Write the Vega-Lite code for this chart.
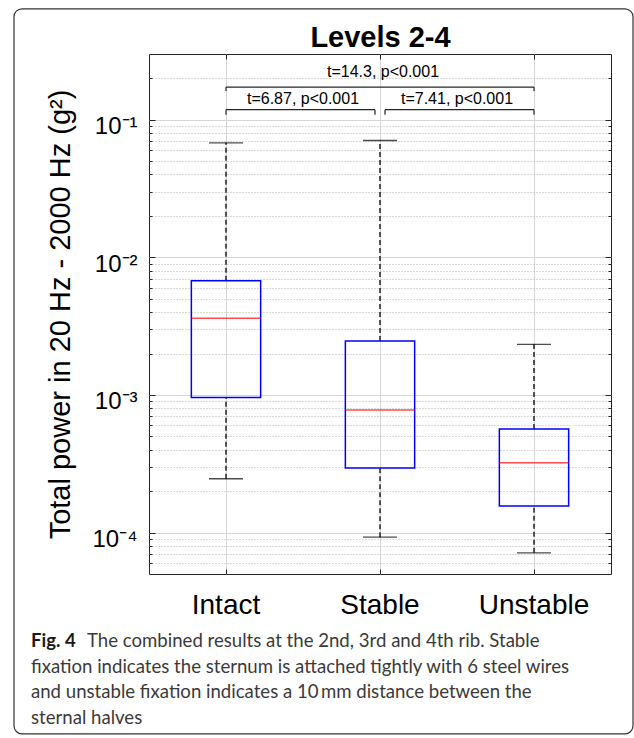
{
  "$schema": "https://vega.github.io/schema/vega-lite/v6.json",
  "padding": {"left": 13, "top": 8, "right": 1, "bottom": 4},
  "background": "white",
  "bounds": "flush",
  "spacing": 60,
  "config": {"font": "Liberation Sans", "view": {"stroke": null}},
  "datasets": {
    "stats": [
      {"group": "Intact", "lower": 0.000246, "q1": 0.000956, "median": 0.00361, "q3": 0.00676, "upper": 0.0679},
      {"group": "Stable", "lower": 0.0000926, "q1": 0.000294, "median": 0.000778, "q3": 0.00247, "upper": 0.0706},
      {"group": "Unstable", "lower": 0.0000713, "q1": 0.000156, "median": 0.000321, "q3": 0.000566, "upper": 0.00233}
    ],
    "brackets": [
      {"from": "Intact", "to": "Unstable", "label": "t=14.3, p<0.001", "tier": "outer"},
      {"from": "Intact", "to": "Stable", "label": "t=6.87, p<0.001", "tier": "inner"},
      {"from": "Stable", "to": "Unstable", "label": "t=7.41, p<0.001", "tier": "inner"}
    ],
    "caption": [
      {"line": 1, "label": "Fig. 4", "text": "The combined results at the 2nd, 3rd and 4th rib. Stable"},
      {"line": 2, "label": "", "text": "fixation indicates the sternum is attached tightly with 6 steel wires"},
      {"line": 3, "label": "", "text": "and unstable fixation indicates a 10\u2009mm distance between the"},
      {"line": 4, "label": "", "text": "sternal halves"}
    ]
  },
  "vconcat": [
    {
      "width": 462,
      "height": 520,
      "view": {"stroke": "#262626", "strokeWidth": 1},
      "resolve": {"axis": {"x": "independent", "y": "independent"}},
      "layer": [
        {
          "layer": [
            {
              "data": {"name": "stats"},
              "mark": {"type": "rule", "color": "#000000", "strokeWidth": 1.3, "strokeDash": [5, 3]},
              "encoding": {
                "x": {"field": "group", "type": "nominal", "bandPosition": 0.5,
                  "scale": {"type": "band", "domain": ["Intact", "Stable", "Unstable"], "paddingInner": 0, "paddingOuter": 0},
                  "axis": {"orient": "bottom", "bandPosition": 0.5, "labelFontSize": 28, "labelColor": "#000000", "labelPadding": 22, "labelAngle": 0,
                    "tickSize": -5, "tickColor": "#262626", "tickWidth": 1, "grid": true, "gridColor": "#d6d6d6", "gridWidth": 1, "domain": false, "title": null}},
                "y": {"field": "lower", "type": "quantitative",
                  "scale": {"type": "log", "domain": [0.00005, 0.3], "nice": false},
                  "axis": {"orient": "left",
                    "values": [0.00006, 0.00007, 0.00008, 0.00009, 0.0001, 0.0002, 0.0003, 0.0004, 0.0005, 0.0006, 0.0007, 0.0008, 0.0009, 0.001, 0.002, 0.003, 0.004, 0.005, 0.006, 0.007, 0.008, 0.009, 0.01, 0.02, 0.03, 0.04, 0.05, 0.06, 0.07, 0.08, 0.09, 0.1, 0.2],
                    "labelExpr": "datum.value === 0.1 ? '10⁻¹' : datum.value === 0.01 ? '10⁻²' : datum.value === 0.001 ? '10⁻³' : datum.value === 0.0001 ? '10⁻⁴' : ''",
                    "labelOverlap": false, "labelFontSize": 24, "labelColor": "#000000", "labelPadding": 18, "labelOffset": 7,
                    "tickSize": {"condition": {"test": "datum.value === 0.0001 || datum.value === 0.001 || datum.value === 0.01 || datum.value === 0.1", "value": -6}, "value": -3},
                    "tickColor": "#262626", "tickWidth": 1,
                    "grid": true,
                    "gridColor": {"condition": {"test": "datum.value === 0.0001 || datum.value === 0.001 || datum.value === 0.01 || datum.value === 0.1", "value": "#d6d6d6"}, "value": "#b5b5b5"},
                    "gridDash": {"condition": {"test": "datum.value === 0.0001 || datum.value === 0.001 || datum.value === 0.01 || datum.value === 0.1", "value": []}, "value": [1, 2]},
                    "domain": false,
                    "title": "Total power in 20 Hz - 2000 Hz (g²)", "titleFontSize": 29, "titleFontWeight": "normal", "titleColor": "#000000", "titlePadding": 16}},
                "y2": {"field": "q1"}
              }
            },
            {
              "data": {"name": "stats"},
              "mark": {"type": "rule", "color": "#000000", "strokeWidth": 1.3, "strokeDash": [5, 3]},
              "encoding": {
                "x": {"field": "group", "type": "nominal", "bandPosition": 0.5, "scale": {"type": "band", "domain": ["Intact", "Stable", "Unstable"], "paddingInner": 0, "paddingOuter": 0}},
                "y": {"field": "q3", "type": "quantitative", "scale": {"type": "log", "domain": [0.00005, 0.3], "nice": false}},
                "y2": {"field": "upper"}
              }
            },
            {
              "data": {"name": "stats"},
              "mark": {"type": "tick", "orient": "horizontal", "size": 34, "thickness": 1.3, "color": "#000000"},
              "encoding": {
                "x": {"field": "group", "type": "nominal", "bandPosition": 0.5, "scale": {"type": "band", "domain": ["Intact", "Stable", "Unstable"], "paddingInner": 0, "paddingOuter": 0}},
                "y": {"field": "lower", "type": "quantitative", "scale": {"type": "log", "domain": [0.00005, 0.3], "nice": false}}
              }
            },
            {
              "data": {"name": "stats"},
              "mark": {"type": "tick", "orient": "horizontal", "size": 34, "thickness": 1.3, "color": "#000000"},
              "encoding": {
                "x": {"field": "group", "type": "nominal", "bandPosition": 0.5, "scale": {"type": "band", "domain": ["Intact", "Stable", "Unstable"], "paddingInner": 0, "paddingOuter": 0}},
                "y": {"field": "upper", "type": "quantitative", "scale": {"type": "log", "domain": [0.00005, 0.3], "nice": false}}
              }
            },
            {
              "data": {"name": "stats"},
              "mark": {"type": "bar", "width": {"band": 0.45}, "fill": "#ffffff", "fillOpacity": 0, "stroke": "#0000ff", "strokeWidth": 1.5},
              "encoding": {
                "x": {"field": "group", "type": "nominal", "scale": {"type": "band", "domain": ["Intact", "Stable", "Unstable"], "paddingInner": 0, "paddingOuter": 0}},
                "y": {"field": "q1", "type": "quantitative", "scale": {"type": "log", "domain": [0.00005, 0.3], "nice": false}},
                "y2": {"field": "q3"}
              }
            },
            {
              "data": {"name": "brackets"},
              "transform": [{"filter": "datum.tier === 'outer'"}],
              "layer": [
                {
                  "mark": {"type": "rule", "color": "#262626", "strokeWidth": 1.2},
                  "encoding": {
                    "x": {"field": "from", "type": "nominal", "bandPosition": 0.5, "scale": {"type": "band", "domain": ["Intact", "Stable", "Unstable"], "paddingInner": 0, "paddingOuter": 0}},
                    "x2": {"field": "to", "bandPosition": 0.5},
                    "y": {"datum": 0.1726, "type": "quantitative", "scale": {"type": "log", "domain": [0.00005, 0.3], "nice": false}}
                  }
                },
                {
                  "mark": {"type": "rule", "color": "#262626", "strokeWidth": 1.2},
                  "encoding": {
                    "x": {"field": "from", "type": "nominal", "bandPosition": 0.5, "scale": {"type": "band", "domain": ["Intact", "Stable", "Unstable"], "paddingInner": 0, "paddingOuter": 0}},
                    "y": {"datum": 0.1726, "type": "quantitative", "scale": {"type": "log", "domain": [0.00005, 0.3], "nice": false}},
                    "y2": {"datum": 0.1615}
                  }
                },
                {
                  "mark": {"type": "rule", "color": "#262626", "strokeWidth": 1.2},
                  "encoding": {
                    "x": {"field": "to", "type": "nominal", "bandPosition": 0.5, "scale": {"type": "band", "domain": ["Intact", "Stable", "Unstable"], "paddingInner": 0, "paddingOuter": 0}},
                    "y": {"datum": 0.1726, "type": "quantitative", "scale": {"type": "log", "domain": [0.00005, 0.3], "nice": false}},
                    "y2": {"datum": 0.1615}
                  }
                },
                {
                  "mark": {"type": "text", "fontSize": 16, "color": "#000000", "baseline": "middle", "dx": 3},
                  "encoding": {
                    "x": {"field": "from", "type": "nominal", "bandPosition": 1.5, "scale": {"type": "band", "domain": ["Intact", "Stable", "Unstable"], "paddingInner": 0, "paddingOuter": 0}},
                    "y": {"datum": 0.2208, "type": "quantitative", "scale": {"type": "log", "domain": [0.00005, 0.3], "nice": false}},
                    "text": {"field": "label"}
                  }
                }
              ]
            },
            {
              "data": {"name": "brackets"},
              "transform": [{"filter": "datum.tier === 'inner' && datum.from === 'Intact'"}],
              "layer": [
                {
                  "mark": {"type": "rule", "color": "#262626", "strokeWidth": 1.2, "x2Offset": -5},
                  "encoding": {
                    "x": {"field": "from", "type": "nominal", "bandPosition": 0.5, "scale": {"type": "band", "domain": ["Intact", "Stable", "Unstable"], "paddingInner": 0, "paddingOuter": 0}},
                    "x2": {"field": "to", "bandPosition": 0.5},
                    "y": {"datum": 0.1182, "type": "quantitative", "scale": {"type": "log", "domain": [0.00005, 0.3], "nice": false}}
                  }
                },
                {
                  "mark": {"type": "rule", "color": "#262626", "strokeWidth": 1.2},
                  "encoding": {
                    "x": {"field": "from", "type": "nominal", "bandPosition": 0.5, "scale": {"type": "band", "domain": ["Intact", "Stable", "Unstable"], "paddingInner": 0, "paddingOuter": 0}},
                    "y": {"datum": 0.1182, "type": "quantitative", "scale": {"type": "log", "domain": [0.00005, 0.3], "nice": false}},
                    "y2": {"datum": 0.1087}
                  }
                },
                {
                  "mark": {"type": "rule", "color": "#262626", "strokeWidth": 1.2, "xOffset": -5},
                  "encoding": {
                    "x": {"field": "to", "type": "nominal", "bandPosition": 0.5, "scale": {"type": "band", "domain": ["Intact", "Stable", "Unstable"], "paddingInner": 0, "paddingOuter": 0}},
                    "y": {"datum": 0.1182, "type": "quantitative", "scale": {"type": "log", "domain": [0.00005, 0.3], "nice": false}},
                    "y2": {"datum": 0.1087}
                  }
                }
              ]
            },
            {
              "data": {"name": "brackets"},
              "transform": [{"filter": "datum.tier === 'inner' && datum.from === 'Stable'"}],
              "layer": [
                {
                  "mark": {"type": "rule", "color": "#262626", "strokeWidth": 1.2, "xOffset": 5},
                  "encoding": {
                    "x": {"field": "from", "type": "nominal", "bandPosition": 0.5, "scale": {"type": "band", "domain": ["Intact", "Stable", "Unstable"], "paddingInner": 0, "paddingOuter": 0}},
                    "x2": {"field": "to", "bandPosition": 0.5},
                    "y": {"datum": 0.1182, "type": "quantitative", "scale": {"type": "log", "domain": [0.00005, 0.3], "nice": false}}
                  }
                },
                {
                  "mark": {"type": "rule", "color": "#262626", "strokeWidth": 1.2, "xOffset": 5},
                  "encoding": {
                    "x": {"field": "from", "type": "nominal", "bandPosition": 0.5, "scale": {"type": "band", "domain": ["Intact", "Stable", "Unstable"], "paddingInner": 0, "paddingOuter": 0}},
                    "y": {"datum": 0.1182, "type": "quantitative", "scale": {"type": "log", "domain": [0.00005, 0.3], "nice": false}},
                    "y2": {"datum": 0.1087}
                  }
                },
                {
                  "mark": {"type": "rule", "color": "#262626", "strokeWidth": 1.2},
                  "encoding": {
                    "x": {"field": "to", "type": "nominal", "bandPosition": 0.5, "scale": {"type": "band", "domain": ["Intact", "Stable", "Unstable"], "paddingInner": 0, "paddingOuter": 0}},
                    "y": {"datum": 0.1182, "type": "quantitative", "scale": {"type": "log", "domain": [0.00005, 0.3], "nice": false}},
                    "y2": {"datum": 0.1087}
                  }
                }
              ]
            },
            {
              "data": {"name": "brackets"},
              "transform": [{"filter": "datum.tier === 'inner'"}],
              "mark": {"type": "text", "fontSize": 16, "color": "#000000", "baseline": "middle"},
              "encoding": {
                "x": {"field": "from", "type": "nominal", "bandPosition": 1, "scale": {"type": "band", "domain": ["Intact", "Stable", "Unstable"], "paddingInner": 0, "paddingOuter": 0}},
                "y": {"datum": 0.142, "type": "quantitative", "scale": {"type": "log", "domain": [0.00005, 0.3], "nice": false}},
                "text": {"field": "label"}
              }
            }
          ]
        },
        {
          "data": {"name": "stats"},
          "mark": {"type": "tick", "orient": "horizontal", "size": 69, "thickness": 1.5, "color": "#ff0000"},
          "encoding": {
            "x": {"field": "group", "type": "nominal", "bandPosition": 0.5,
              "scale": {"type": "band", "domain": ["Intact", "Stable", "Unstable"], "paddingInner": 0, "paddingOuter": 0},
              "axis": {"orient": "top", "bandPosition": 0.5, "labels": false, "tickSize": -5, "tickColor": "#262626", "tickWidth": 1, "grid": false, "domain": false,
                "title": "Levels 2-4", "titleFontSize": 29, "titleFontWeight": "bold", "titleColor": "#000000", "titlePadding": 7, "titleBaseline": "alphabetic"}},
            "y": {"field": "median", "type": "quantitative",
              "scale": {"type": "log", "domain": [0.00005, 0.3], "nice": false},
              "axis": {"orient": "right",
                "values": [0.00006, 0.00007, 0.00008, 0.00009, 0.0001, 0.0002, 0.0003, 0.0004, 0.0005, 0.0006, 0.0007, 0.0008, 0.0009, 0.001, 0.002, 0.003, 0.004, 0.005, 0.006, 0.007, 0.008, 0.009, 0.01, 0.02, 0.03, 0.04, 0.05, 0.06, 0.07, 0.08, 0.09, 0.1, 0.2],
                "labels": false,
                "tickSize": {"condition": {"test": "datum.value === 0.0001 || datum.value === 0.001 || datum.value === 0.01 || datum.value === 0.1", "value": -6}, "value": -3},
                "tickColor": "#262626", "tickWidth": 1, "grid": false, "domain": false, "title": null}}
          }
        }
      ]
    },
    {
      "width": 462,
      "height": 103,
      "data": {"name": "caption"},
      "layer": [
        {
          "transform": [{"filter": "datum.line > 1"}],
          "mark": {"type": "text", "align": "left", "baseline": "alphabetic", "font": "Lato", "fontSize": 18.6, "color": "#3a3a3a"},
          "encoding": {
            "x": {"datum": -0.2554, "type": "quantitative", "scale": {"domain": [0, 1], "nice": false, "zero": false}, "axis": null},
            "y": {"field": "line", "type": "quantitative", "scale": {"domain": [0.5, 4.5], "reverse": true, "nice": false, "zero": false}, "axis": null},
            "text": {"field": "text"}
          }
        },
        {
          "transform": [{"filter": "datum.line === 1"}],
          "mark": {"type": "text", "align": "left", "baseline": "alphabetic", "font": "Lato", "fontSize": 18.6, "color": "#3a3a3a"},
          "encoding": {
            "x": {"datum": -0.1342, "type": "quantitative", "scale": {"domain": [0, 1], "nice": false, "zero": false}, "axis": null},
            "y": {"field": "line", "type": "quantitative", "scale": {"domain": [0.5, 4.5], "reverse": true, "nice": false, "zero": false}, "axis": null},
            "text": {"field": "text"}
          }
        },
        {
          "transform": [{"filter": "datum.line === 1"}],
          "mark": {"type": "text", "align": "left", "baseline": "alphabetic", "font": "Lato", "fontSize": 18.6, "fontWeight": "bold", "color": "#1a1a1a"},
          "encoding": {
            "x": {"datum": -0.2554, "type": "quantitative", "scale": {"domain": [0, 1], "nice": false, "zero": false}, "axis": null},
            "y": {"field": "line", "type": "quantitative", "scale": {"domain": [0.5, 4.5], "reverse": true, "nice": false, "zero": false}, "axis": null},
            "text": {"field": "label"}
          }
        },
        {
          "transform": [{"filter": "datum.line === 1"}],
          "mark": {"type": "rect", "filled": false, "stroke": "#333333", "strokeWidth": 1.2, "cornerRadius": 8},
          "encoding": {
            "x": {"datum": -0.2922, "type": "quantitative", "scale": {"domain": [0, 1], "nice": false, "zero": false}, "axis": null},
            "x2": {"datum": 1.0476},
            "y": {"datum": -23.78, "type": "quantitative", "scale": {"domain": [0.5, 4.5], "reverse": true, "nice": false, "zero": false}, "axis": null},
            "y2": {"datum": 4.376}
          }
        }
      ]
    }
  ]
}
